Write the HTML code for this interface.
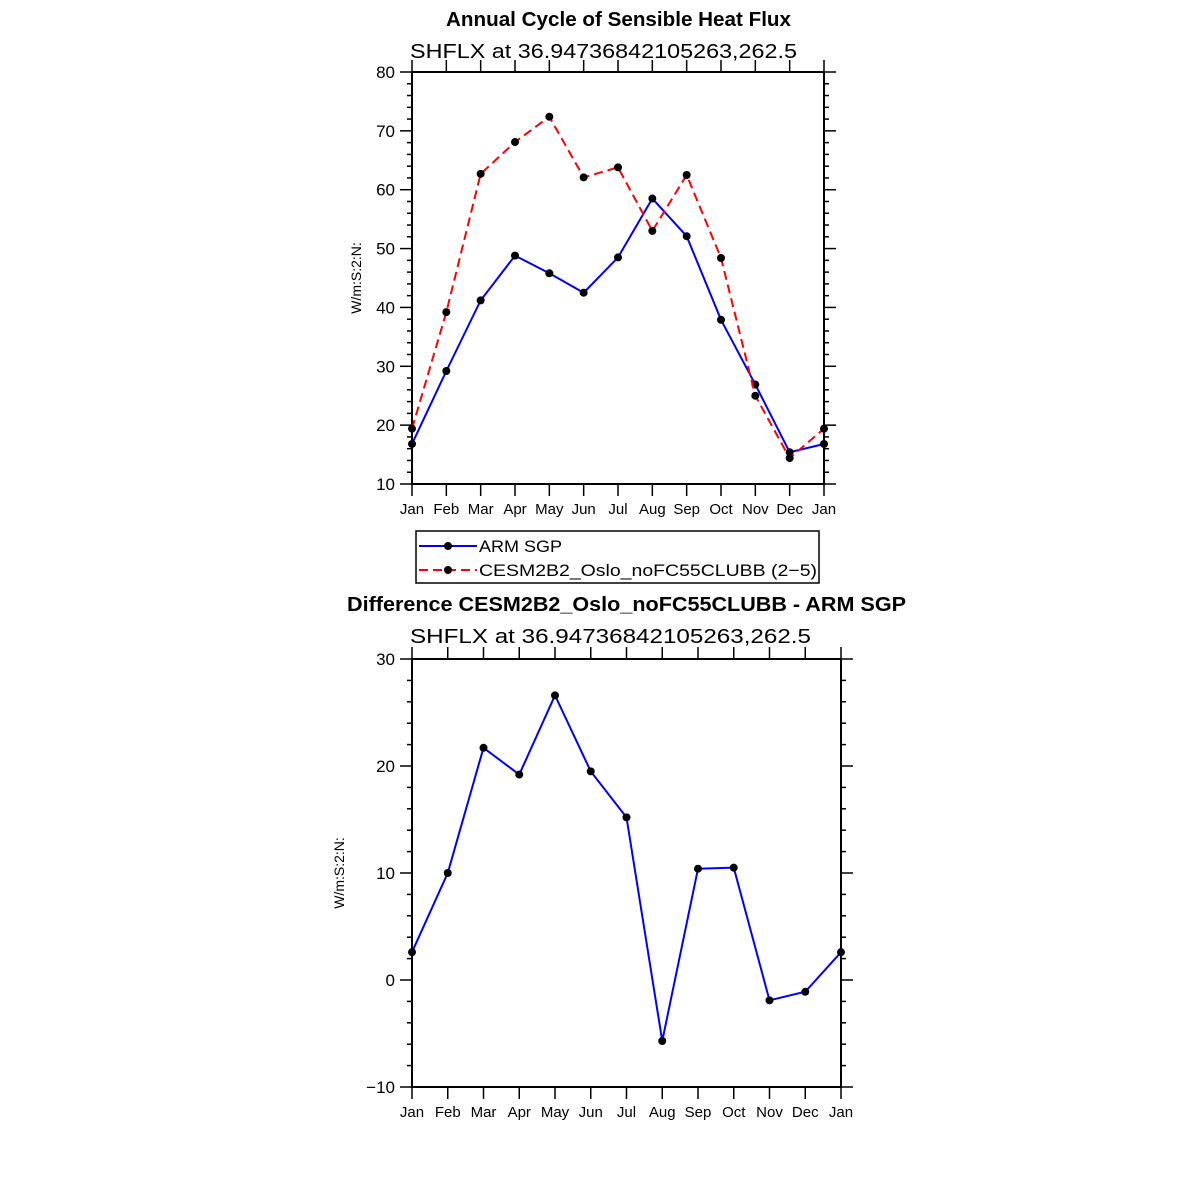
<!DOCTYPE html>
<html><head><meta charset="utf-8"><style>
html,body{margin:0;padding:0;background:#fff;}
svg{display:block;font-family:"Liberation Sans",sans-serif;}
</style></head><body>
<svg id="c" width="1183" height="1183" viewBox="0 0 1183 1183"></svg>
<script>
const months = ["Jan","Feb","Mar","Apr","May","Jun","Jul","Aug","Sep","Oct","Nov","Dec","Jan"];
const armValues = [16.8,29.2,41.2,48.8,45.8,42.5,48.5,58.5,52.1,37.9,26.9,15.4,16.8];
const cesmValues = [19.4,39.2,62.7,68.1,72.4,62.1,63.8,53.0,62.5,48.4,25.0,14.4,19.4];
const diffValues = [2.6,10.0,21.7,19.2,26.6,19.5,15.2,-5.7,10.4,10.5,-1.9,-1.1,2.6];
const topTicks = [10,20,30,40,50,60,70,80];
const botTicks = [-10,0,10,20,30];

const NS="http://www.w3.org/2000/svg";
const svg=document.getElementById('c');
function mk(tag,attrs,parent){const e=document.createElementNS(NS,tag);for(const k in attrs)e.setAttribute(k,attrs[k]);(parent||svg).appendChild(e);return e;}
function txt(s,x,y,attrs,parent){const t=mk('text',Object.assign({x:x,y:y},attrs),parent);t.textContent=s;return t;}

function panel(name,x0,x1,yTop,yBot,vmin,vmax,ticks,series){
  const g=mk('g',{});
  
  
  const xs=i=>x0+(x1-x0)*i/(months.length-1);
  const ys=v=>yBot-(v-vmin)/(vmax-vmin)*(yBot-yTop);
  mk('rect',{x:x0,y:yTop,width:x1-x0,height:yBot-yTop,fill:'none',stroke:'#000','stroke-width':2},g);
  for(let v=vmin; v<=vmax+1e-9; v+=2){
    const major=ticks.indexOf(Math.round(v))>=0;
    const L=major?12:5;const y=ys(v);
    mk('line',{x1:x0,x2:x0-L,y1:y,y2:y,stroke:'#000','stroke-width':1.5},g);
    mk('line',{x1:x1,x2:x1+L,y1:y,y2:y,stroke:'#000','stroke-width':1.5},g);
  }
  ticks.forEach(v=>{
    const t=txt(String(v).replace('-','\u2212'),x0-17,ys(v)+6,{'font-size':17,'text-anchor':'end'},g);
    
    
  });
  months.forEach((m,i)=>{
    const x=xs(i);
    mk('line',{x1:x,x2:x,y1:yBot,y2:yBot+12,stroke:'#000','stroke-width':1.5},g);
    mk('line',{x1:x,x2:x,y1:yTop,y2:yTop-12,stroke:'#000','stroke-width':1.5},g);
    const t=txt(m,x,yBot+30,{'font-size':15,'text-anchor':'middle'},g);
    
    
  });
  series.forEach(s=>{
    const pts=s.vals.map((v,i)=>xs(i)+','+ys(v)).join(' ');
    const pl=mk('polyline',{points:pts,fill:'none',stroke:s.color,'stroke-width':2,'stroke-dasharray':s.dash||'none'},g);
    
    
    s.vals.forEach((v,i)=>{
      const c=mk('circle',{cx:xs(i),cy:ys(v),r:4,fill:'#000'},g);
      
      
    });
  });
  return g;
}

panel('top-plot',412,824,72,484,10,80,topTicks,[
  {vals:armValues,color:'#0000ff',name:'arm-sgp-line'},
  {vals:cesmValues,color:'#ff0000',dash:'9,5',name:'cesm-line'}
]);
panel('bottom-plot',412,841,659,1087,-10,30,botTicks,[
  {vals:diffValues,color:'#0000ff',name:'difference-line'}
]);

let t;
t=txt('Annual Cycle of Sensible Heat Flux',446,26,{'font-size':20,'font-weight':'bold',textLength:345,lengthAdjust:'spacingAndGlyphs'});

t=txt('SHFLX  at  36.94736842105263,262.5',410,58,{'font-size':20,textLength:387,lengthAdjust:'spacingAndGlyphs'});

t=txt('W/m:S:2:N:',0,0,{'font-size':14,'text-anchor':'middle',transform:'translate(361,278) rotate(-90)'});


t=txt('Difference CESM2B2_Oslo_noFC55CLUBB - ARM SGP',347,611,{'font-size':20,'font-weight':'bold',textLength:559,lengthAdjust:'spacingAndGlyphs'});

t=txt('SHFLX  at  36.94736842105263,262.5',410,643,{'font-size':20,textLength:401,lengthAdjust:'spacingAndGlyphs'});

t=txt('W/m:S:2:N:',0,0,{'font-size':14,'text-anchor':'middle',transform:'translate(344,873) rotate(-90)'});


const lg=mk('g',{});


mk('rect',{x:416,y:531,width:403,height:52,fill:'#fff',stroke:'#000','stroke-width':1.5},lg);
mk('line',{x1:419,x2:477,y1:546,y2:546,stroke:'#0000ff','stroke-width':2},lg);
mk('circle',{cx:448,cy:546,r:4,fill:'#000'},lg);
t=txt('ARM SGP',479,552,{'font-size':17,textLength:83,lengthAdjust:'spacingAndGlyphs'},lg);

mk('line',{x1:419,x2:477,y1:570,y2:570,stroke:'#ff0000','stroke-width':2,'stroke-dasharray':'9,5'},lg);
mk('circle',{cx:448,cy:570,r:4,fill:'#000'},lg);
t=txt('CESM2B2_Oslo_noFC55CLUBB (2\u22125)',479,576,{'font-size':17,textLength:338,lengthAdjust:'spacingAndGlyphs'},lg);

</script>
</body></html>
